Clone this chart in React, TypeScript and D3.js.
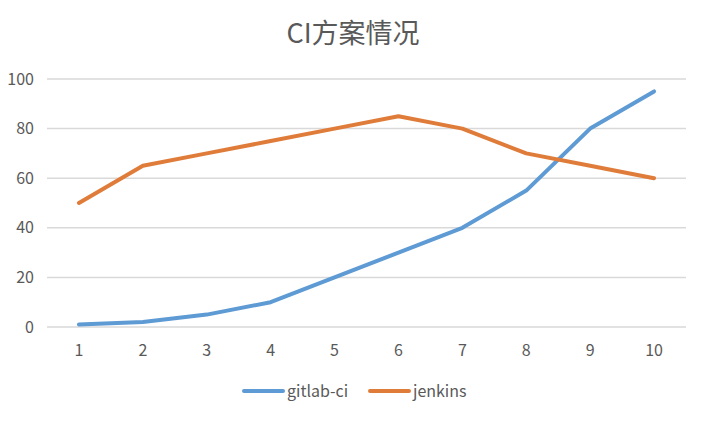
import React from "react";
import * as d3 from "d3";

const categories = ["1", "2", "3", "4", "5", "6", "7", "8", "9", "10"];
const gitlabCi = [1, 2, 5, 10, 20, 30, 40, 55, 80, 95];
const jenkins = [50, 65, 70, 75, 80, 85, 80, 70, 65, 60];
const yTicks = [0, 20, 40, 60, 80, 100];
const seriesNames = ["gitlab-ci", "jenkins"];
const colors = ["#5E9AD3", "#E07C3A"];

export default function App() {
  const W = 706, H = 422;
  const left = 47, right = 686, top = 79, bottom = 327;
  const x = d3.scaleBand<string>().domain(categories).range([left, right]);
  const y = d3.scaleLinear().domain([0, 100]).range([bottom, top]);
  const line = d3
    .line<number>()
    .x((_, i) => (x(categories[i]) as number) + x.bandwidth() / 2)
    .y((d) => y(d));
  const series = [gitlabCi, jenkins];
  const font = "'Noto Sans CJK SC', 'Noto Sans', sans-serif";
  return (
    <svg width={W} height={H} style={{ position: "absolute", left: 0, top: 0, background: "#fff" }}>
      <rect width={W} height={H} fill="#fff" />
      <text x={W / 2} y={43} textAnchor="middle" fontSize={27} fill="#595959" fontFamily={font}>
        CI方案情况
      </text>
      {yTicks.map((t) => (
        <g key={t}>
          <line x1={left} x2={right} y1={y(t)} y2={y(t)} stroke="#D9D9D9" strokeWidth={1.5} />
          <text x={34} y={y(t)} dy="0.35em" textAnchor="end" fontSize={16} fill="#595959" fontFamily={font}>
            {t}
          </text>
        </g>
      ))}
      {categories.map((c) => (
        <text key={c} x={(x(c) as number) + x.bandwidth() / 2} y={356} textAnchor="middle" fontSize={16} fill="#595959" fontFamily={font}>
          {c}
        </text>
      ))}
      {series.map((s, i) => (
        <path key={i} d={line(s) as string} fill="none" stroke={colors[i]} strokeWidth={4} strokeLinecap="round" strokeLinejoin="round" />
      ))}
      {seriesNames.map((n, i) => {
        const lx = i === 0 ? 244 : 370;
        return (
          <g key={n}>
            <line x1={lx} x2={lx + 39} y1={391} y2={391} stroke={colors[i]} strokeWidth={4} strokeLinecap="round" />
            <text x={lx + 43} y={397} fontSize={16} fill="#595959" fontFamily={font}>
              {n}
            </text>
          </g>
        );
      })}
    </svg>
  );
}
